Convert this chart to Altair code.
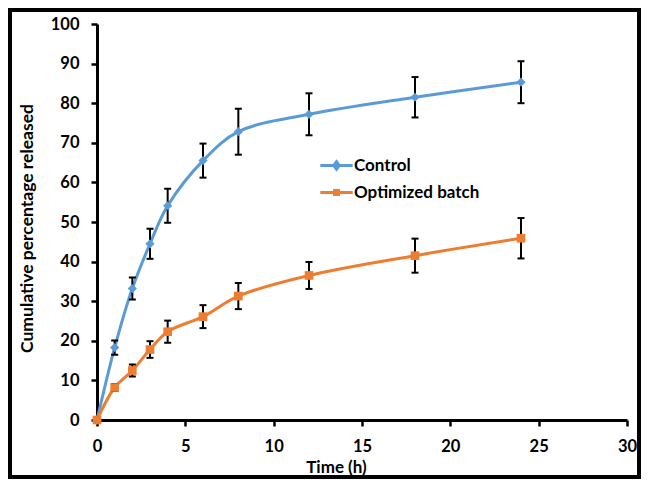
import altair as alt
import pandas as pd

times = [0, 1, 2, 3, 4, 6, 8, 12, 18, 24]
control = [0, 18.3, 33.2, 44.5, 54.1, 65.5, 72.8, 77.2, 81.5, 85.3]
control_err = [0, 1.8, 2.8, 3.8, 4.3, 4.3, 5.8, 5.3, 5.1, 5.3]
optimized = [0, 8.2, 12.5, 17.8, 22.3, 26.1, 31.3, 36.5, 41.5, 45.9]
optimized_err = [0, 0.9, 1.5, 2.1, 2.8, 2.9, 3.3, 3.4, 4.3, 5.1]
series_names = ["Control", "Optimized batch"]
series_colors = ["#5B9BD5", "#ED7D31"]
series_markers = ["diamond", "square"]
x_ticks = [0, 5, 10, 15, 20, 25, 30]
y_ticks = [0, 10, 20, 30, 40, 50, 60, 70, 80, 90, 100]

rows = []
for name, vals, errs in [(series_names[0], control, control_err), (series_names[1], optimized, optimized_err)]:
    for t, v, e in zip(times, vals, errs):
        rows.append({"series": name, "time": t, "value": v, "err": e, "low": v - e, "high": v + e})
df = pd.DataFrame(rows)

FONT = "Lato"
W, H = 530, 396

xscale = alt.Scale(domain=[0, 30], nice=False)
yscale = alt.Scale(domain=[0, 100], nice=False)
xaxis = alt.Axis(values=x_ticks, title="Time (h)", labelFlush=False, titleFontSize=17,
                 titleX=239, titleY=47, titleAlign="center", titleBaseline="middle")
yaxis = alt.Axis(values=y_ticks, title="Cumulative percentage released",
                 titleX=-70, titleY=204, titleAlign="center", titleBaseline="middle", titleAngle=270)


def X(field):
    return alt.X(field, scale=xscale, axis=xaxis)


def Y(field):
    return alt.Y(field, scale=yscale, axis=yaxis)


cscale = alt.Scale(domain=series_names, range=series_colors)

base = alt.Chart(df)

path_ctrl = "M-1.8,0H1.8M0,-0.42L0.3,0L0,0.42L-0.3,0Z"
path_opt = "M-1.8,0H1.8M-0.38,-0.22H0.38M-0.38,0.22H0.38"
leg = alt.Legend(
    title=None, orient="none", legendX=229, legendY=131, padding=0,
    symbolSize=324, symbolStrokeWidth=3, labelOffset=7, rowPadding=6, symbolOpacity=1,
    labelFont=FONT, labelFontSize=17, labelFontWeight="bold", labelColor="black")
legend_layer = base.transform_filter("false").mark_point(opacity=1, strokeWidth=3, filled=False).encode(
    x=X("time:Q"), y=Y("value:Q"),
    color=alt.Color("series:N", scale=cscale, legend=leg),
    shape=alt.Shape("series:N", scale=alt.Scale(domain=series_names, range=[path_ctrl, path_opt]), legend=leg))

lines = base.mark_line(interpolate="catmull-rom", strokeWidth=3).encode(
    x=X("time:Q"), y=Y("value:Q"),
    color=alt.Color("series:N", scale=cscale, legend=None))

eb = base.transform_filter("datum.err > 0")
rules = eb.mark_rule(color="black", strokeWidth=2).encode(
    x=X("time:Q"), y=Y("low:Q"), y2="high:Q")
cap_lo = eb.mark_tick(color="black", thickness=2, size=7, orient="horizontal", opacity=1).encode(
    x=X("time:Q"), y=Y("low:Q"))
cap_hi = eb.mark_tick(color="black", thickness=2, size=7, orient="horizontal", opacity=1).encode(
    x=X("time:Q"), y=Y("high:Q"))

point_layers = []
for name, marker, sz in zip(series_names, series_markers, [85, 75]):
    point_layers.append(
        base.transform_filter(alt.datum.series == name).mark_point(
            filled=True, opacity=1, shape=marker, size=sz).encode(
            x=X("time:Q"), y=Y("value:Q"),
            color=alt.Color("series:N", scale=cscale, legend=None)))

frame = alt.Chart(pd.DataFrame({"a": [0]})).mark_rect(
    fill=None, stroke="black", strokeWidth=4).encode(
    x=alt.value(-87), x2=alt.value(542), y=alt.value(-14), y2=alt.value(453))

chart = alt.layer(legend_layer, lines, rules, cap_lo, cap_hi, *point_layers, frame).properties(
    width=W, height=H,
    padding={"left": 89, "top": 16, "right": 14, "bottom": 59},
    autosize=alt.AutoSizeParams(type="none"),
).configure_view(stroke=None).configure_axis(
    grid=False, domainColor="black", domainWidth=3, tickColor="black", tickWidth=2.5, tickSize=6,
    labelFont=FONT, labelFontSize=16.5, labelFontWeight="bold", labelColor="black", labelPadding=12,
    titleFont=FONT, titleFontSize=17.5, titleFontWeight="bold", titleColor="black",
)

chart.save("out.html", embed_options={"renderer": "svg", "actions": False})
